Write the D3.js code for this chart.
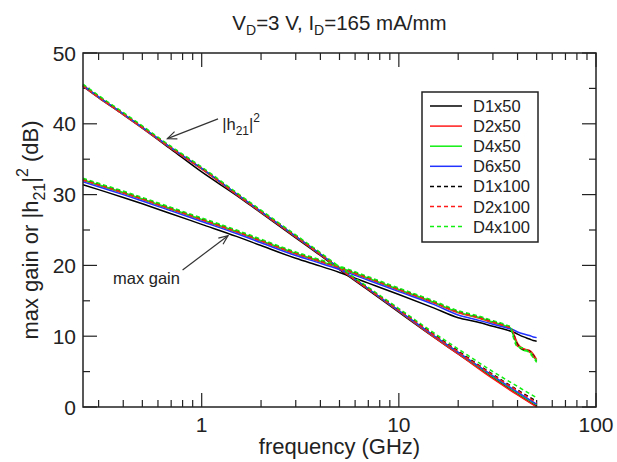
<!DOCTYPE html>
<html>
<head>
<meta charset="utf-8">
<script src="https://cdn.jsdelivr.net/npm/d3@7"></script>
<style>
  body { margin: 0; background: #fff; }
  svg text { font-family: "Liberation Sans", Arial, sans-serif; fill: #222; }
</style>
</head>
<body>
<div id="vis"></div>
<script>
// frequencies (GHz) for |h21|^2 and max gain curves
const freqH21 = [0.25, 0.3, 0.4, 0.5, 0.7, 1, 1.5, 2, 3, 4, 5, 7, 10, 15, 20, 30, 40, 50];
const freqMag = [0.25, 0.3, 0.4, 0.5, 0.7, 1, 1.5, 2, 3, 4, 5, 7, 10, 15, 20, 25, 30, 35, 37, 38, 40, 43, 46, 48, 50];

const devices = ['D1x50', 'D2x50', 'D4x50', 'D6x50', 'D1x100', 'D2x100', 'D4x100'];

// |h21|^2 (dB)
const h21_D1x50  = [45.3, 43.7, 41.3, 39.4, 36.4, 33.2, 29.9, 27.4, 23.9, 21.4, 19.4, 16.5, 13.4, 9.9, 7.5, 4.1, 1.8, 0.1];
const h21_D2x50  = [45.3, 43.7, 41.3, 39.4, 36.5, 33.6, 30.0, 27.5, 24.0, 21.5, 19.5, 16.6, 13.5, 9.9, 7.5, 4.0, 1.7, 0.0];
const h21_D4x50  = [45.4, 43.8, 41.4, 39.5, 36.6, 33.7, 30.1, 27.6, 24.1, 21.6, 19.6, 16.7, 13.6, 10.1, 7.7, 4.3, 2.0, 0.3];
const h21_D6x50  = [45.4, 43.8, 41.4, 39.5, 36.6, 33.7, 30.1, 27.6, 24.1, 21.6, 19.6, 16.7, 13.6, 10.1, 7.7, 4.4, 2.1, 0.4];
const h21_D1x100 = [45.5, 43.9, 41.5, 39.6, 36.7, 33.8, 30.2, 27.7, 24.2, 21.7, 19.7, 16.8, 13.8, 10.3, 7.9, 4.6, 2.4, 0.8];
const h21_D2x100 = [45.4, 43.8, 41.4, 39.5, 36.6, 33.7, 30.1, 27.6, 24.1, 21.6, 19.6, 16.7, 13.7, 10.2, 7.8, 4.5, 2.3, 0.6];
const h21_D4x100 = [45.6, 44.0, 41.6, 39.7, 36.8, 33.9, 30.3, 27.8, 24.3, 21.8, 19.8, 16.9, 13.9, 10.5, 8.2, 5.0, 2.9, 1.3];

// max gain (dB)
const mag_D1x50  = [31.4, 30.7, 29.6, 28.7, 27.3, 25.8, 24.1, 22.8, 21.0, 19.9, 19.0, 17.5, 15.9, 14.0, 12.6, 12.0, 11.4, 10.9, 10.7, 10.6, 10.3, 9.9, 9.6, 9.4, 9.3];
const mag_D2x50  = [32.0, 31.3, 30.2, 29.3, 27.9, 26.4, 24.7, 23.4, 21.6, 20.5, 19.6, 18.1, 16.5, 14.7, 13.3, 12.6, 11.9, 11.3, 11.0, 10.5, 9.0, 8.2, 8.0, 7.5, 6.7];
const mag_D4x50  = [32.1, 31.4, 30.3, 29.4, 28.0, 26.5, 24.8, 23.5, 21.7, 20.6, 19.7, 18.2, 16.6, 14.8, 13.4, 12.7, 12.0, 11.4, 11.1, 10.2, 8.7, 8.0, 7.8, 7.2, 6.5];
const mag_D6x50  = [31.8, 31.1, 30.0, 29.1, 27.7, 26.2, 24.5, 23.2, 21.4, 20.3, 19.4, 17.9, 16.3, 14.5, 13.0, 12.3, 11.7, 11.2, 11.0, 10.9, 10.6, 10.3, 10.1, 9.9, 9.8];
const mag_D1x100 = [32.2, 31.5, 30.4, 29.5, 28.1, 26.6, 24.9, 23.6, 21.8, 20.7, 19.8, 18.3, 16.7, 14.9, 13.5, 12.8, 12.1, 11.5, 11.2, 10.4, 8.8, 8.1, 7.9, 7.3, 6.6];
const mag_D2x100 = [32.1, 31.4, 30.3, 29.4, 28.0, 26.5, 24.8, 23.5, 21.7, 20.6, 19.7, 18.2, 16.6, 14.8, 13.4, 12.7, 12.0, 11.4, 11.1, 10.6, 8.6, 8.2, 7.8, 7.2, 6.5];
const mag_D4x100 = [32.3, 31.6, 30.5, 29.6, 28.2, 26.7, 25.0, 23.7, 21.9, 20.8, 19.9, 18.4, 16.8, 15.0, 13.6, 12.9, 12.2, 11.6, 11.3, 9.9, 8.5, 8.3, 7.6, 7.0, 6.3];

const xTickLabels = [1, 10, 100];
const yTickLabels = [0, 10, 20, 30, 40, 50];

const h21Series = [h21_D1x50, h21_D2x50, h21_D4x50, h21_D6x50, h21_D1x100, h21_D2x100, h21_D4x100];
const magSeries = [mag_D1x50, mag_D2x50, mag_D4x50, mag_D6x50, mag_D1x100, mag_D2x100, mag_D4x100];

const colors = new Map();
colors.set('D1x50', '#000000');
colors.set('D2x50', '#ff1a1a');
colors.set('D4x50', '#11ee11');
colors.set('D6x50', '#2233ff');
colors.set('D1x100', '#000000');
colors.set('D2x100', '#ff1a1a');
colors.set('D4x100', '#11ee11');

const width = 617, height = 462;
const margin = {top: 53, right: 21, bottom: 55, left: 83};

const svg = d3.select("#vis").append("svg")
  .attr("width", width)
  .attr("height", height);

const x = d3.scaleLog().domain([0.25, 100]).range([margin.left, width - margin.right]);
const y = d3.scaleLinear().domain([0, 50]).range([height - margin.bottom, margin.top]);

const x0 = margin.left, x1 = width - margin.right;
const y0 = height - margin.bottom, y1 = margin.top;

// ticks (inward on all four sides)
const xMajor = [1, 10, 100];
const xMinor = [];
[0.1, 1, 10].forEach(function(d){ for (let k = 2; k <= 9; k++) { const v = d * k; if (v >= 0.25 && v < 100) xMinor.push(v); } });
const yMajor = [0, 10, 20, 30, 40, 50];
const yMinor = [5, 15, 25, 35, 45];

const ticks = svg.append("g").attr("stroke", "#222").attr("stroke-width", 1.2);
function xTick(v, len) {
  ticks.append("line").attr("x1", x(v)).attr("x2", x(v)).attr("y1", y0).attr("y2", y0 - len);
  ticks.append("line").attr("x1", x(v)).attr("x2", x(v)).attr("y1", y1).attr("y2", y1 + len);
}
function yTick(v, len) {
  ticks.append("line").attr("x1", x0).attr("x2", x0 + len).attr("y1", y(v)).attr("y2", y(v));
  ticks.append("line").attr("x1", x1).attr("x2", x1 - len).attr("y1", y(v)).attr("y2", y(v));
}
xMajor.forEach(function(v){ xTick(v, 14); });
xMinor.forEach(function(v){ xTick(v, 7); });
yMajor.forEach(function(v){ yTick(v, 14); });
yMinor.forEach(function(v){ yTick(v, 7); });

// curves
const line = d3.line().curve(d3.curveMonotoneX);
const plot = svg.append("g").attr("fill", "none");
devices.forEach(function(name, i) {
  const dashed = name.indexOf('x100') > 0;
  [[freqH21, h21Series[i]], [freqMag, magSeries[i]]].forEach(function(pair) {
    const pts = pair[0].map(function(f, j){ return [x(f), y(pair[1][j])]; });
    plot.append("path")
      .attr("d", line(pts))
      .attr("stroke", colors.get(name))
      .attr("stroke-width", 1.5)
      .attr("stroke-dasharray", dashed ? "4,3" : null);
  });
});

// frame
svg.append("rect")
  .attr("x", x0).attr("y", y1)
  .attr("width", x1 - x0).attr("height", y0 - y1)
  .attr("fill", "none").attr("stroke", "#222").attr("stroke-width", 1.5);

// tick labels
svg.selectAll(".xlab").data(xTickLabels).enter().append("text")
  .attr("x", function(d){ return x(d); })
  .attr("y", y0 + 25)
  .attr("text-anchor", "middle")
  .style("font-size", "21px")
  .text(function(d){ return d; });

svg.selectAll(".ylab").data(yTickLabels).enter().append("text")
  .attr("x", x0 - 7)
  .attr("y", function(d){ return y(d) + 7.5; })
  .attr("text-anchor", "end")
  .style("font-size", "21px")
  .text(function(d){ return d; });

// axis titles
svg.append("text")
  .attr("x", (x0 + x1) / 2)
  .attr("y", height - 8)
  .attr("text-anchor", "middle")
  .style("font-size", "22px")
  .text("frequency (GHz)");

const ylab = svg.append("text")
  .attr("transform", "translate(38," + ((y0 + y1) / 2) + ") rotate(-90)")
  .attr("text-anchor", "middle")
  .style("font-size", "22px");
ylab.append("tspan").text("max gain or |h");
ylab.append("tspan").attr("dy", 7).style("font-size", "16px").text("21");
ylab.append("tspan").attr("dy", -7).text("|");
ylab.append("tspan").attr("dy", -10).style("font-size", "16px").text("2");
ylab.append("tspan").attr("dy", 10).text(" (dB)");

// title
const title = svg.append("text")
  .attr("x", (x0 + x1) / 2)
  .attr("y", 30)
  .attr("text-anchor", "middle")
  .style("font-size", "20.5px");
title.append("tspan").text("V");
title.append("tspan").attr("dy", 5).style("font-size", "14px").text("D");
title.append("tspan").attr("dy", -5).text("=3 V, I");
title.append("tspan").attr("dy", 5).style("font-size", "14px").text("D");
title.append("tspan").attr("dy", -5).text("=165 mA/mm");

// legend
const legX = 422, legY = 92, legW = 116, legH = 150, legStep = 20.1;
svg.append("rect")
  .attr("x", legX).attr("y", legY)
  .attr("width", legW).attr("height", legH)
  .attr("fill", "#fff").attr("stroke", "#222").attr("stroke-width", 1.5);
devices.forEach(function(name, i) {
  const ly = legY + 14 + i * legStep;
  svg.append("line")
    .attr("x1", legX + 8).attr("x2", legX + 40)
    .attr("y1", ly).attr("y2", ly)
    .attr("stroke", colors.get(name))
    .attr("stroke-width", 1.5)
    .attr("stroke-dasharray", name.indexOf('x100') > 0 ? "4,3" : null);
  svg.append("text")
    .attr("x", legX + 51).attr("y", ly + 6)
    .style("font-size", "16.5px")
    .text(name);
});

// annotations
function arrow(from, to) {
  const ax = x(to[0]), ay = y(to[1]);
  const bx = x(from[0]), by = y(from[1]);
  const ang = Math.atan2(by - ay, bx - ax);
  const L = 10, a = 0.4;
  const g = svg.append("g").attr("stroke", "#333").attr("stroke-width", 1.2).attr("fill", "none");
  g.append("line").attr("x1", bx).attr("y1", by).attr("x2", ax).attr("y2", ay);
  g.append("path").attr("d",
    "M" + (ax + L * Math.cos(ang + a)) + "," + (ay + L * Math.sin(ang + a)) +
    "L" + ax + "," + ay +
    "L" + (ax + L * Math.cos(ang - a)) + "," + (ay + L * Math.sin(ang - a)));
}
arrow([1.21, 40.7], [0.67, 37.9]);
arrow([0.80, 19.35], [1.36, 24.2]);

const h21lab = svg.append("text")
  .attr("x", x(1.27)).attr("y", y(39.1))
  .style("font-size", "16.5px");
h21lab.append("tspan").text("|h");
h21lab.append("tspan").attr("dy", 5).style("font-size", "12px").text("21");
h21lab.append("tspan").attr("dy", -5).text("|");
h21lab.append("tspan").attr("dy", -8).style("font-size", "12px").text("2");

svg.append("text")
  .attr("x", x(0.355)).attr("y", y(17.4))
  .style("font-size", "16.5px")
  .text("max gain");
</script>
</body>
</html>
